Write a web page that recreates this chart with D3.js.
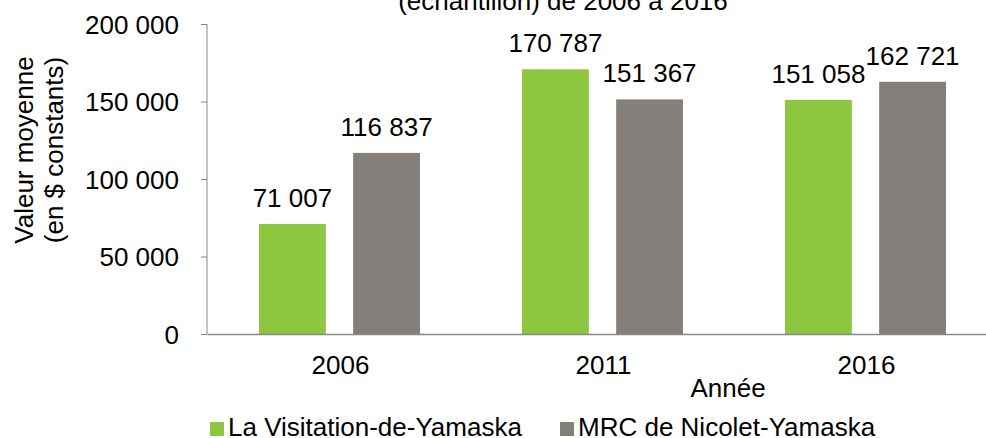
<!DOCTYPE html>
<html>
<head>
<meta charset="utf-8">
<script src="https://cdn.jsdelivr.net/npm/d3@7"></script>
<style>
body { margin: 0; background: #fff; overflow: hidden; }
text { font-family: "Liberation Sans", Arial, sans-serif; fill: #000; }
</style>
</head>
<body>
<svg id="chart" width="986" height="438"></svg>
<script>
// data
var years = ["2006", "2011", "2016"];
var seriesNames = ["La Visitation-de-Yamaska", "MRC de Nicolet-Yamaska"];
var visitation = [71007, 170787, 151058];
var mrc = [116837, 151367, 162721];
var yTicks = [0, 50000, 100000, 150000, 200000];
var colors = ["#8DC63F", "#857F7B"];

var margin = {top: 24, right: -10, bottom: 104, left: 207},
width = 986 - margin.left - margin.right,
height = 438 - margin.top - margin.bottom;

var svg = d3.select("#chart")
.append("g")
.attr("transform", "translate(" + margin.left + "," + margin.top + ")");

var fmt = function(v) { return d3.format(",")(v).replace(/,/g, " "); };

var x = d3.scaleBand().domain(years).range([0, width]);
var x1 = d3.scaleBand().domain(seriesNames).range([52, x.bandwidth() - 50]).paddingInner(0.29);
var y = d3.scaleLinear().domain([0, 200000]).range([height, 0]);

// title (its top is cut off in the source picture)
svg.append("text")
.attr("x", 563 - margin.left)
.attr("y", 10 - margin.top)
.attr("text-anchor", "middle")
.style("font-size", "26px")
.text("(échantillon) de 2006 à 2016");

// Y axis
var yAxis = svg.append("g")
.call(d3.axisLeft(y).tickValues(yTicks).tickSize(6).tickPadding(22).tickFormat(fmt));
yAxis.select(".domain").attr("stroke", "#888").attr("d", "M0,0V" + height);
yAxis.selectAll(".tick line").attr("stroke", "#888");
yAxis.selectAll("text").style("font-size", "26px").attr("dy", "0.36em");

// y title, two lines
var yTitle = svg.append("text")
.attr("transform", "translate(" + (33 - margin.left) + "," + (150 - margin.top) + ") rotate(-90)")
.attr("text-anchor", "middle")
.style("font-size", "26px");
yTitle.append("tspan").attr("x", 0).attr("y", 0).text("Valeur moyenne");
yTitle.append("tspan").attr("x", 0).attr("y", 30).text("(en $ constants)");

// bars
var data = years.map(function(yr, i) { return {year: yr, vals: [visitation[i], mrc[i]]}; });
var groups = svg.selectAll(".grp").data(data).enter().append("g")
.attr("transform", function(d) { return "translate(" + x(d.year) + ",0)"; });

groups.selectAll("rect").data(function(d) { return d.vals; }).enter().append("rect")
.attr("x", function(d, i) { return x1(seriesNames[i]); })
.attr("width", x1.bandwidth())
.attr("y", function(d) { return y(d); })
.attr("height", function(d) { return height - y(d); })
.attr("fill", function(d, i) { return colors[i]; });

groups.selectAll(".lbl").data(function(d) { return d.vals; }).enter().append("text")
.attr("x", function(d, i) { return x1(seriesNames[i]) + x1.bandwidth() / 2; })
.attr("y", function(d) { return y(d) - 17; })
.attr("text-anchor", "middle")
.style("font-size", "26px")
.text(fmt);

// X axis
var xAxis = svg.append("g")
.attr("transform", "translate(0," + height + ")")
.call(d3.axisBottom(x).tickSize(0).tickPadding(22));
xAxis.select(".domain").attr("stroke", "#888").attr("stroke-width", 1.5);
xAxis.selectAll("text").style("font-size", "26px").attr("dx", "2");

svg.append("text")
.attr("x", 728 - margin.left)
.attr("y", 397 - margin.top)
.attr("text-anchor", "middle")
.style("font-size", "26px")
.text("Année");

// legend
var legX = [210, 560];
var legend = svg.selectAll(".leg").data(seriesNames).enter().append("g")
.attr("transform", function(d, i) { return "translate(" + (legX[i] - margin.left) + "," + (436 - margin.top) + ")"; });
legend.append("rect").attr("width", 14).attr("height", 14).attr("y", -14)
.attr("fill", function(d, i) { return colors[i]; });
legend.append("text").attr("x", 18).attr("y", 0)
.style("font-size", "26px")
.text(function(d) { return d; });
</script>
</body>
</html>
